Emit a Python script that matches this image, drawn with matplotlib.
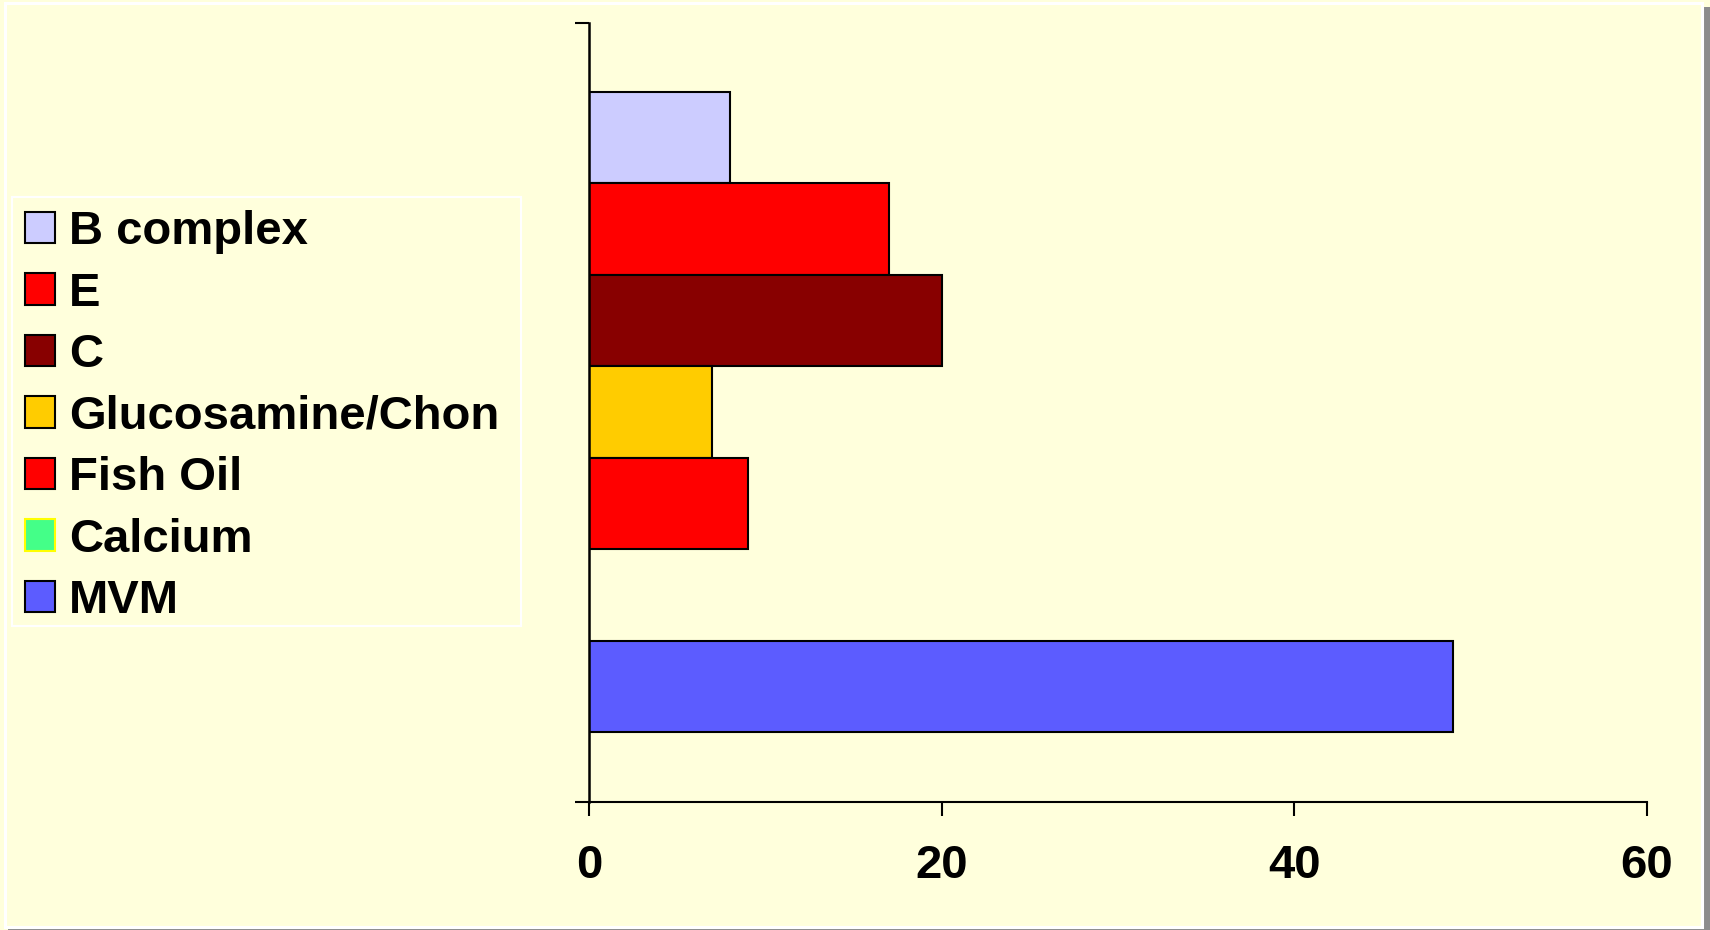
import matplotlib
matplotlib.use("Agg")
import matplotlib.pyplot as plt
from matplotlib.patches import Rectangle

# Supplement usage (percent of respondents)
supplements = ["B complex", "E", "C", "Glucosamine/Chon", "Fish Oil", "Calcium", "MVM"]
usage = [8, 17, 20, 7, 9, 0, 49]
fill_colors = ["#CCCCFF", "#FF0000", "#880000", "#FFCC00", "#FF0000", "#44FF88", "#5C5CFF"]
edge_colors = ["#000000", "#000000", "#000000", "#000000", "#000000", "#FFFF00", "#000000"]
x_ticks = [0, 20, 40, 60]

BG = "#FFFFDC"
W, H = 1710, 930
FS = 34

plt.rcParams["font.family"] = ["Liberation Sans", "DejaVu Sans"]
plt.rcParams["font.weight"] = "bold"

fig = plt.figure(figsize=(W / 100, H / 100), dpi=100, facecolor=BG)

# chart-area border and drop shadow
fig.patches.append(Rectangle((8 / W, 0), 1 - 8 / W, 3 / H, transform=fig.transFigure,
                             facecolor="#8C8C8C", edgecolor="none", zorder=0))
fig.patches.append(Rectangle((1703 / W, 0), 7 / W, 1 - 7 / H, transform=fig.transFigure,
                             facecolor="#8C8C8C", edgecolor="none", zorder=0))
fig.patches.append(Rectangle((4.5 / W, 3 / H), 1697 / W, 1 - 6.5 / H, transform=fig.transFigure,
                             facecolor="none", edgecolor="white", linewidth=2.2, zorder=1))

# legend box outline
fig.patches.append(Rectangle((12 / W, 1 - 626 / H), (521 - 12) / W, (626 - 197) / H,
                             transform=fig.transFigure, facecolor="none",
                             edgecolor="white", linewidth=1.5, zorder=1))

ax = fig.add_axes([589 / W, (H - 802) / H, (1647 - 589) / W, (802 - 23) / H])
ax.set_facecolor(BG)

positions = list(range(len(supplements)))
ax.barh(positions, usage, height=1.0, color=fill_colors, edgecolor=edge_colors,
        linewidth=1.5, zorder=2)

ax.set_xlim(0, 60)
ax.set_ylim(6.5 + 0.766, -0.5 - 0.755)
ax.set_xticks(x_ticks)
ax.set_xticklabels([str(t) for t in x_ticks])
ax.set_yticks([6.5 + 0.766, -0.5 - 0.755])
ax.set_yticklabels([])

for side in ("top", "right"):
    ax.spines[side].set_visible(False)
ax.spines["left"].set_linewidth(1.8)
ax.spines["bottom"].set_linewidth(1.5)
ax.spines["left"].set_zorder(3)

ax.tick_params(axis="x", direction="out", length=10, width=1.5, pad=20,
               labelsize=FS, labelcolor="black")
ax.tick_params(axis="y", direction="out", length=10, width=1.5)
for lbl in ax.get_xticklabels():
    lbl.set_fontweight("bold")

handles = [Rectangle((0, 0), 1, 1, facecolor=fc, edgecolor=ec, linewidth=1.5)
           for fc, ec in zip(fill_colors, edge_colors)]
leg = fig.legend(handles, supplements, loc="upper left",
                 bbox_to_anchor=(12 / W, 1 - 197 / H), bbox_transform=fig.transFigure,
                 prop={"family": "Liberation Sans", "weight": "bold", "size": FS},
                 handlelength=0.64, handleheight=0.64, handletextpad=0.28,
                 labelspacing=0.37, borderpad=0.28, borderaxespad=0,
                 frameon=False)

fig.savefig("out.png", dpi=100, facecolor=BG)
